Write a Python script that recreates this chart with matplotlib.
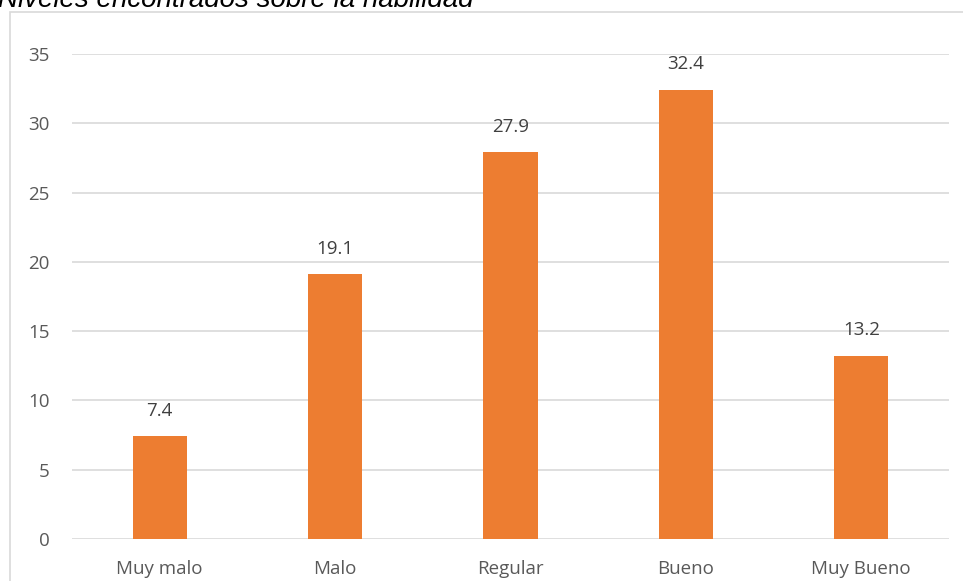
import matplotlib.pyplot as plt
from matplotlib.patches import Rectangle

categorias = ["Muy malo", "Malo", "Regular", "Bueno", "Muy Bueno"]
valores = [7.4, 19.1, 27.9, 32.4, 13.2]
yticks = [0, 5, 10, 15, 20, 25, 30, 35]

plt.rcParams['font.family'] = ['Open Sans', 'DejaVu Sans']

fig = plt.figure(figsize=(9.63, 5.81), dpi=100)
ax = fig.add_axes([72/963, 42/581, (949-72)/963, (539-54)/581])

x = range(len(categorias))
ax.bar(x, valores, width=0.31, color="#ED7D31", zorder=3)
for xi, v in zip(x, valores):
    ax.annotate(f"{v}", (xi, v), xytext=(0, 12), textcoords="offset points",
                ha="center", va="bottom", fontsize=13.5, color="#404040")

ax.set_xlim(-0.5, len(categorias) - 0.5)
ax.set_ylim(0, 35)
ax.set_yticks(yticks)
ax.set_xticks(list(x))
ax.set_xticklabels(categorias)
ax.tick_params(axis="both", length=0, labelsize=13.5, labelcolor="#595959")
ax.tick_params(axis="y", pad=16)
ax.tick_params(axis="x", pad=15)
ax.grid(axis="y", color="#d9d9d9", linewidth=1.2, zorder=0)
for s in ax.spines.values():
    s.set_visible(False)

# chart border (partially cropped in the original)
fig.patches.append(Rectangle((10/963, -0.1), 1.1, 1 - 12/581 + 0.1, transform=fig.transFigure,
                             fill=False, edgecolor="#d9d9d9", linewidth=1.2))

fig.text(-0.002, 1 - 7/581, "Niveles encontrados sobre la habilidad", fontsize=20,
         style="italic", family=["Liberation Sans", "DejaVu Sans"], va="baseline", ha="left")

fig.savefig("out.png", dpi=100)
